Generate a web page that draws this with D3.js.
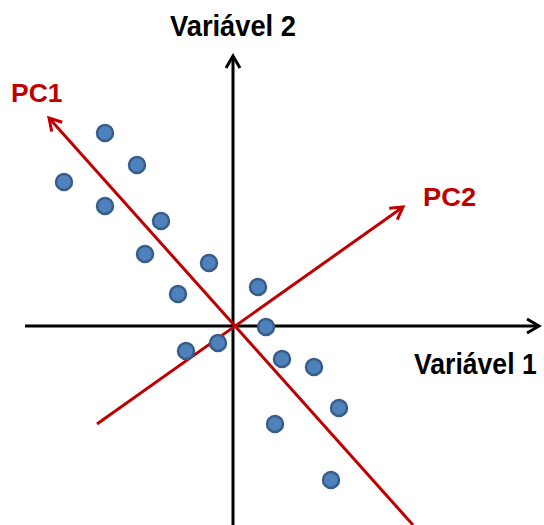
<!DOCTYPE html>
<html><head><meta charset="utf-8">
<script src="https://cdn.jsdelivr.net/npm/d3@7"></script>
<style>html,body{margin:0;padding:0;background:#fff;}svg{display:block;}</style>
</head><body>
<script>
// Data (units: arbitrary, origin at axis crossing)
const pointsX = [-6.4, -4.8, -8.45, -6.4, -3.6, -4.4, -1.2, -2.75, 1.25, 1.65, -2.35, -0.75, 2.45, 4.05, 5.3, 2.1, 4.9];
const pointsY = [9.65, 8.05, 7.2, 6.0, 5.25, 3.6, 3.15, 1.6, 1.95, -0.05, -1.25, -0.85, -1.65, -2.05, -4.1, -4.9, -7.7];
const pcNames = ["PC1", "PC2"];
const pcStartX = [9.0, -6.8];
const pcStartY = [-9.95, -4.9];
const pcEndX = [-9.2, 8.5];
const pcEndY = [10.4, 5.95];
const axisNames = ["Variável 1", "Variável 2"];
const xDomain = [-10.4, 15.35];
const yDomain = [-9.95, 13.55];

const W = 544, H = 525;
const svg = d3.select("body").append("svg").attr("width", W).attr("height", H);
const x = d3.scaleLinear().domain(xDomain).range([25, 540]);
const y = d3.scaleLinear().domain(yDomain).range([525, 55]);

const defs = svg.append("defs");
function marker(id, color) {
  defs.append("marker").attr("id", id).attr("markerUnits", "userSpaceOnUse")
    .attr("viewBox", "-2 -2 18 20").attr("markerWidth", 18).attr("markerHeight", 20)
    .attr("refX", 12).attr("refY", 7).attr("orient", "auto")
    .append("path").attr("d", "M0,0 L12,7 L0,14").attr("fill", "none")
    .attr("stroke", color).attr("stroke-width", 3).attr("stroke-linejoin", "miter");
}
marker("arrK", "#000");
marker("arrR", "#c00000");

// axes
svg.append("line").attr("x1", x(xDomain[0])).attr("y1", y(0)).attr("x2", x(xDomain[1]) - 1).attr("y2", y(0))
  .attr("stroke", "#000").attr("stroke-width", 3).attr("marker-end", "url(#arrK)");
svg.append("line").attr("x1", x(0)).attr("y1", y(yDomain[0])).attr("x2", x(0)).attr("y2", y(yDomain[1]) + 1)
  .attr("stroke", "#000").attr("stroke-width", 3).attr("marker-end", "url(#arrK)");

// PC lines
pcNames.forEach((n, i) => {
  svg.append("line").attr("x1", x(pcStartX[i])).attr("y1", y(pcStartY[i]))
    .attr("x2", x(pcEndX[i])).attr("y2", y(pcEndY[i]))
    .attr("stroke", "#c00000").attr("stroke-width", 3).attr("marker-end", "url(#arrR)");
});

// points
svg.selectAll("circle.pt").data(pointsX.map((v, i) => [v, pointsY[i]])).enter().append("circle")
  .attr("class", "pt").attr("cx", d => x(d[0])).attr("cy", d => y(d[1])).attr("r", 8)
  .attr("fill", "#4f81bd").attr("stroke", "#385d8a").attr("stroke-width", 2.5);

// labels
const font = "'Liberation Sans', Arial, sans-serif";
function label(txt, tx, ty, sx, sy, size, color) {
  svg.append("text").attr("transform", `translate(${tx},${ty}) scale(${sx},${sy})`)
    .attr("font-family", font).attr("font-weight", "bold").attr("font-size", size).attr("fill", color)
    .text(txt);
}
label(axisNames[1], 170, 36, 1.0, 1.07, 27.3, "#000");
label(axisNames[0], 414, 374, 0.985, 1.074, 27, "#000");
label(pcNames[0], 11, 102, 1.0, 1.0, 26.5, "#c00000");
label(pcNames[1], 423, 206, 1.03, 1.0, 26.5, "#c00000");
</script>
</body></html>
